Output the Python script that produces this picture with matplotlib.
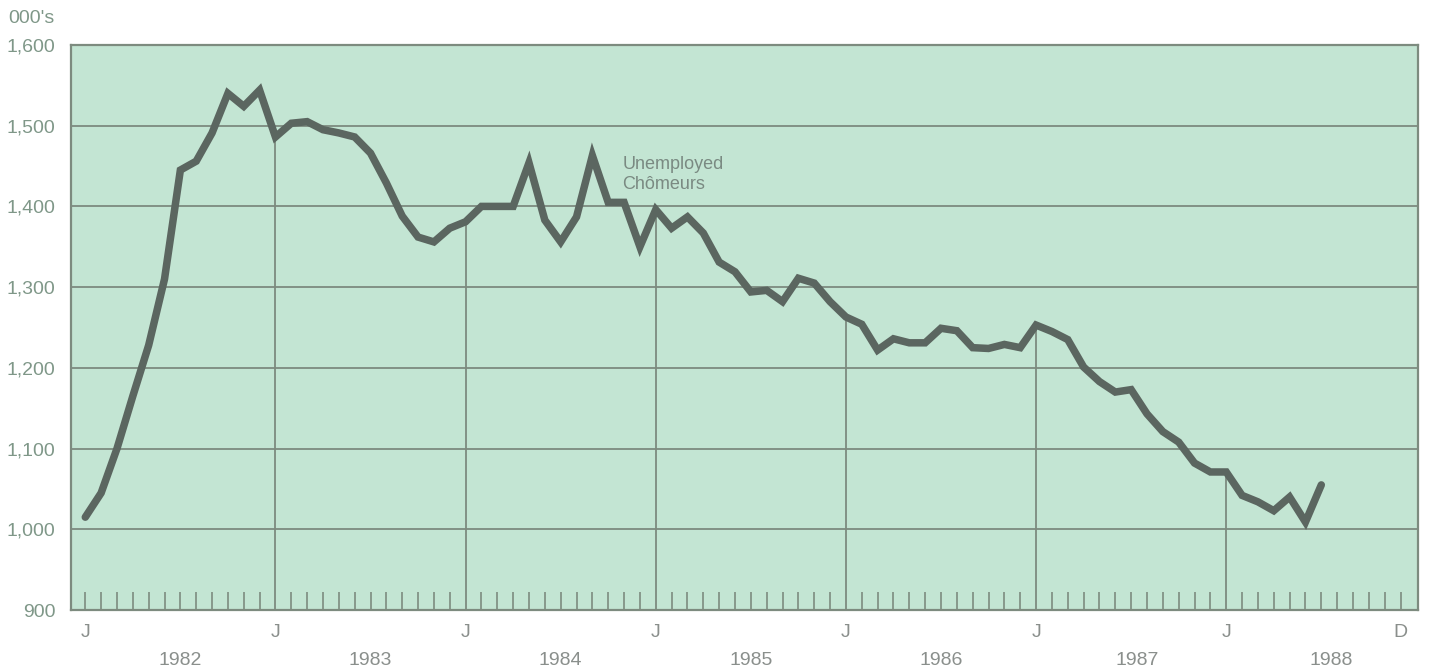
import matplotlib
matplotlib.use("Agg")
import matplotlib.pyplot as plt

# monthly unemployed, thousands, Jan 1982 .. Jul 1988
unemployed = [
    1015, 1045, 1100, 1165, 1228, 1310, 1445, 1456, 1491, 1540, 1524, 1544,  # 1982
    1486, 1503, 1505, 1495, 1491, 1486, 1466, 1429, 1388, 1362, 1356, 1373,  # 1983
    1381, 1400, 1400, 1400, 1454, 1383, 1356, 1387, 1463, 1405, 1405, 1350,  # 1984
    1396, 1373, 1387, 1367, 1331, 1319, 1294, 1296, 1282, 1311, 1305, 1282,  # 1985
    1263, 1254, 1222, 1236, 1231, 1231, 1249, 1246, 1225, 1224, 1229, 1225,  # 1986
    1253, 1245, 1235, 1201, 1183, 1170, 1173, 1143, 1121, 1108, 1082, 1071,  # 1987
    1071, 1042, 1034, 1023, 1040, 1009, 1055,                                # 1988
]
years = ["1982", "1983", "1984", "1985", "1986", "1987", "1988"]
y_ticks = [900, 1000, 1100, 1200, 1300, 1400, 1500, 1600]
n_months = 84

plt.rcParams["font.family"] = ["Liberation Sans", "DejaVu Sans"]

bg = "#c3e5d3"
rule = "#7d8b7f"
ink = "#5b6660"
label_col = "#7f9788"
grey_txt = "#8a8f8c"

fig = plt.figure(figsize=(14.32, 6.71), dpi=100)
ax = fig.add_axes([0.0496, 0.0909, 0.9406, 0.8421])
ax.set_facecolor(bg)
ax.set_xlim(-0.9, n_months + 0.1)
ax.set_ylim(900, 1600)

for s in ax.spines.values():
    s.set_color(rule)
    s.set_linewidth(1.6)

# horizontal rules
for v in y_ticks[1:-1]:
    ax.axhline(v, color=rule, lw=1.3, zorder=1)

# january drop lines from the curve to the base
months = list(range(len(unemployed)))
jans = [m for m in range(12, n_months, 12)]
ax.vlines(jans, 900, [unemployed[m] for m in jans], color=rule, lw=1.3, zorder=1)

# small month ticks along the base
small = [m for m in range(n_months) if m not in jans]
ax.vlines(small, 900, 922, color=rule, lw=1.2, zorder=1)

ax.plot(months, unemployed, color=ink, lw=5.4, solid_joinstyle="miter",
        solid_capstyle="round", zorder=3)

ax.text(33.9, 1463, "Unemployed\nChômeurs", color="#7a8a82", fontsize=13,
        va="top", ha="left", linespacing=1.25, zorder=4)

ax.set_yticks(y_ticks)
ax.set_yticklabels([f"{v:,}" for v in y_ticks], color=label_col, fontsize=14)
ax.tick_params(axis="y", length=0, pad=11)
ax.set_xticks([])

# month letters and years under the axis
for m in range(0, n_months, 12):
    ax.text(m, 872, "J", color=grey_txt, fontsize=14, ha="center", va="center")
ax.text(83, 872, "D", color=grey_txt, fontsize=14, ha="center", va="center")
year_pos = [6, 18, 30, 42, 54, 66.4, 78.6]
for x, yr in zip(year_pos, years):
    ax.text(x, 838, yr, color=grey_txt, fontsize=14, ha="center", va="center")

fig.text(0.006, 0.972, "000's", color=label_col, fontsize=14, ha="left", va="center")

fig.savefig("out.png", dpi=100)
